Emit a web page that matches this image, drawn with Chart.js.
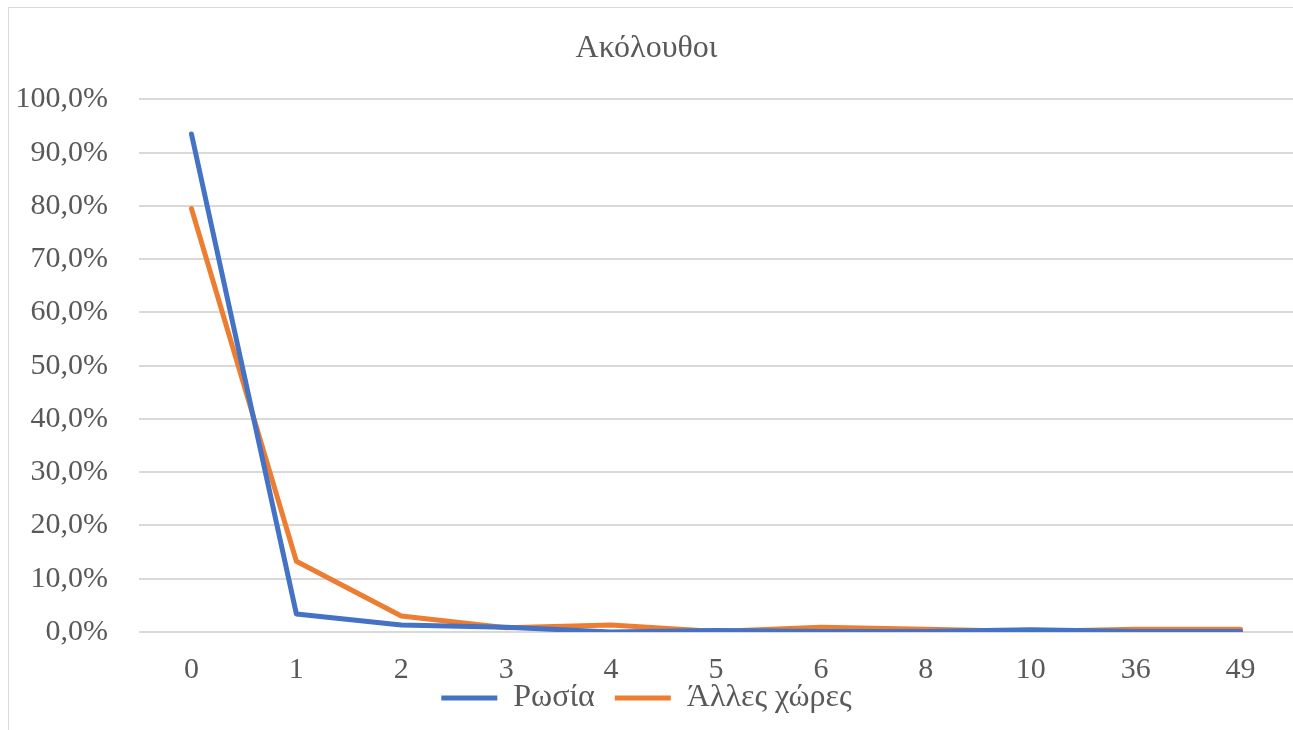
<!DOCTYPE html>
<html>
<head>
<meta charset="utf-8">
<script src="https://cdn.jsdelivr.net/npm/chart.js@4"></script>
<style>
  html, body { margin: 0; padding: 0; background: #fff; overflow: hidden; }
  .frame { position: absolute; left: 8px; top: 7px; width: 1300px; height: 740px; border-left: 1px solid #d9d9d9; border-top: 1px solid #d9d9d9; }
  #chart { position: absolute; left: 0; top: 0; }
</style>
</head>
<body>
<div class="frame"></div>
<canvas id="chart" width="1293" height="730"></canvas>
<script>
// data
const labels = ["0", "1", "2", "3", "4", "5", "6", "8", "10", "36", "49"];
const russia = [93.5, 3.4, 1.3, 0.9, 0.0, 0.3, 0.1, 0.1, 0.4, 0.1, 0.1];
const others = [79.5, 13.3, 3.0, 0.8, 1.3, 0.1, 0.9, 0.5, 0.1, 0.5, 0.5];

const gray = "#595959";
const serif = "'Liberation Serif', 'DejaVu Serif', serif";

new Chart(document.getElementById("chart"), {
    type: "line",
    data: {
        labels: labels,
        datasets: [
            {
                label: "Ρωσία",
                data: russia,
                borderColor: "#4472C4",
                backgroundColor: "#4472C4",
                borderWidth: 5,
                borderCapStyle: "round",
                borderJoinStyle: "round",
                pointRadius: 0,
                tension: 0
            },
            {
                label: "Άλλες χώρες",
                data: others,
                borderColor: "#ED7D31",
                backgroundColor: "#ED7D31",
                borderWidth: 5,
                borderCapStyle: "round",
                borderJoinStyle: "round",
                pointRadius: 0,
                tension: 0
            }
        ]
    },
    options: {
        responsive: false,
        animation: false,
        layout: { padding: { left: 0, right: 0, top: 0, bottom: 6 } },
        plugins: {
            title: {
                display: true,
                text: "Ακόλουθοι",
                color: gray,
                font: { family: serif, size: 32, weight: "normal" },
                padding: { top: 29, bottom: 32 }
            },
            legend: {
                position: "bottom",
                labels: {
                    color: gray,
                    font: { family: serif, size: 32 },
                    usePointStyle: true,
                    pointStyle: "line",
                    pointStyleWidth: 56,
                    padding: 20
                }
            },
            tooltip: { enabled: false }
        },
        scales: {
            x: {
                offset: true,
                grid: { display: false, drawTicks: false },
                border: { display: false },
                // mirror keeps the labels from being clipped to the short axis box
                ticks: { color: gray, font: { family: serif, size: 30, lineHeight: 1 }, padding: -53, mirror: true, autoSkip: false, maxRotation: 0 },
                afterFit: (scale) => { scale.height = 30; scale.paddingRight = 0; scale.paddingLeft = 0; }
            },
            y: {
                min: 0,
                max: 100,
                grid: { color: "#d9d9d9", lineWidth: 2, drawTicks: false },
                border: { display: false },
                ticks: {
                    stepSize: 10,
                    color: gray,
                    font: { family: serif, size: 30 },
                    padding: 31,
                    callback: (v) => v.toFixed(1).replace(".", ",") + "%"
                },
                afterFit: (scale) => { scale.width = 139; }
            }
        }
    }
});
</script>
</body>
</html>
